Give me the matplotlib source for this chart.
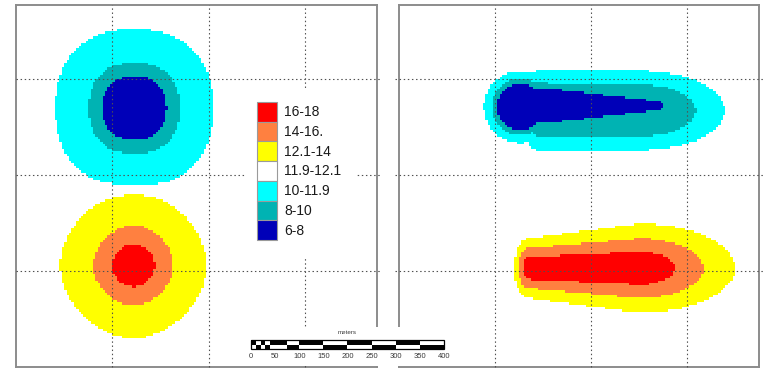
import numpy as np
import matplotlib
matplotlib.use("Agg")
import matplotlib.pyplot as plt
from matplotlib.colors import ListedColormap, BoundaryNorm
from matplotlib.patches import Rectangle

plt.rcParams['font.family'] = ['Liberation Sans', 'DejaVu Sans']

# class breaks and colours
levels = [6, 8, 10, 11.9, 12.1, 14, 16, 18]
class_colors = ['#0000b8', '#00b3b3', '#00ffff', '#ffffff', '#ffff00', '#ff8040', '#ff0000']
class_labels = ['6-8', '8-10', '10-11.9', '11.9-12.1', '12.1-14', '14-16.', '16-18']
background = 12.0

# anomalies in metres: panel, core start/end along x, centre y,
# amplitude at start/end, half-width at start/end, front/tail scale,
# shape exponent, distance norm
anom_panel = [0, 0, 1, 1, 1, 1]
anom_x0 = [246, 244, 252, 294, 294, 269]
anom_x1 = [246, 244, 252, 533, 506, 500]
anom_y = [540, 212, 542, 545, 535, 206]
anom_amp0 = [-7.17, 4.86, -5.3, -5.5, -3.8, 4.3]
anom_amp1 = [-7.17, 4.86, -5.3, -5.5, -3.8, 4.3]
anom_w0 = [85, 87.5, 59.6, 50, 62, 44.6]
anom_w1 = [85, 87.5, 59.6, 14, 60, 66.7]
anom_front = [85, 87.5, 59.6, 31, 31, 20.8]
anom_tail = [85, 87.5, 59.6, 20.8, 125, 143.75]
anom_p = [2.2, 2.45, 6, 4, 4, 4]
anom_q = [2.3, 1.85, 2.0, 2.0, 2.0, 2.0]

grid_m = [200, 400, 600]
scale_ticks = [0, 50, 100, 150, 200, 250, 300, 350, 400]

cell = 5.0
xmax, ymax = 750, 755
xs = np.arange(cell / 2, xmax, cell)
ys = np.arange(cell / 2, ymax, cell)
X, Y = np.meshgrid(xs, ys)


def anomaly(i):
    x0, x1 = anom_x0[i], anom_x1[i]
    span = max(x1 - x0, 1e-9)
    t = np.clip((X - x0) / span, 0, 1)
    amp = anom_amp0[i] + (anom_amp1[i] - anom_amp0[i]) * t
    w = anom_w0[i] + (anom_w1[i] - anom_w0[i]) * t
    dx = np.where(X < x0, (X - x0) / anom_front[i],
                  np.where(X > x1, (X - x1) / anom_tail[i], 0.0))
    dy = (Y - anom_y[i]) / w
    q = anom_q[i]
    d = (np.abs(dx) ** q + np.abs(dy) ** q) ** (1 / q)
    return amp * np.exp(-d ** anom_p[i])


def panel_field(panel):
    parts = np.array([anomaly(i) for i in range(len(anom_panel)) if anom_panel[i] == panel])
    pos = np.clip(parts, 0, None).max(axis=0)
    neg = np.clip(parts, None, 0).min(axis=0)
    return background + pos + neg


cmap = ListedColormap(class_colors)
cmap.set_under(class_colors[0])
cmap.set_over(class_colors[-1])
norm = BoundaryNorm(levels, cmap.N)

fig = plt.figure(figsize=(7.65, 3.68), dpi=100)
W, H = 765.0, 368.0
ax_left = fig.add_axes([16 / W, 1 / H, 361 / W, 362 / H])
ax_right = fig.add_axes([399 / W, 1 / H, 360 / W, 362 / H])

for k, ax in enumerate([ax_left, ax_right]):
    ax.imshow(panel_field(k), cmap=cmap, norm=norm, origin='lower',
              extent=(0, xmax, 0, ymax), interpolation='nearest', aspect='auto')
    ax.set_xlim(0, xmax)
    ax.set_ylim(0, ymax)
    ax.set_xticks([])
    ax.set_yticks([])
    for s in ax.spines.values():
        s.set_color('#8c8c8c')
        s.set_linewidth(1.4)
    # dotted graticule, running a little past the frame
    hx = [0, xmax + 8] if k == 0 else [-8, xmax + 8]
    for g in grid_m:
        ax.plot(hx, [g, g], color='#505050', lw=0.8, ls=(0, (1.3, 2.4)),
                clip_on=False, zorder=3)
        ax.plot([g, g], [0, ymax], color='#505050', lw=0.8, ls=(0, (1.3, 2.4)),
                clip_on=False, zorder=3)

# legend box, highest class on top (drawn in pixel units)
ax_leg = fig.add_axes([245 / W, 1 - 258 / H, 112 / W, 168 / H])
ax_leg.set_facecolor('white')
ax_leg.set_xlim(0, 112)
ax_leg.set_ylim(168, 0)
ax_leg.set_xticks([])
ax_leg.set_yticks([])
for s in ax_leg.spines.values():
    s.set_visible(False)
row_h = 19.7
for j, (c, lab) in enumerate(zip(class_colors[::-1], class_labels[::-1])):
    y0 = 12 + j * row_h
    ax_leg.add_patch(Rectangle((12, y0), 20, row_h, facecolor=c, edgecolor='#9a9a9a', lw=0.8))
    ax_leg.text(39, y0 + row_h / 2 + 0.5, lab, ha='left', va='center', fontsize=10, color='#1a1a1a')

# scale bar
ax_sc = fig.add_axes([248 / W, 2 / H, 210 / W, 39 / H])
ax_sc.set_facecolor('white')
ax_sc.set_xlim(-6.2, 429)
ax_sc.set_ylim(39, 0)
ax_sc.set_xticks([])
ax_sc.set_yticks([])
for s in ax_sc.spines.values():
    s.set_visible(False)

top, mid, bot = 13, 17.5, 22
for j, x in enumerate(range(0, 50, 10)):
    ax_sc.add_patch(Rectangle((x, top if j % 2 == 0 else mid), 10, mid - top, facecolor='black', lw=0))
segments = [50, 75, 100, 150, 200, 250, 300, 350, 400]
for j in range(len(segments) - 1):
    x, w = segments[j], segments[j + 1] - segments[j]
    ax_sc.add_patch(Rectangle((x, top if j % 2 == 0 else mid), w, mid - top, facecolor='black', lw=0))
ax_sc.add_patch(Rectangle((0, top), 400, bot - top, facecolor='none', edgecolor='black', lw=0.9))
for v in scale_ticks:
    ax_sc.text(v, 29.5, str(v), ha='center', va='center', fontsize=5.5, color='#3a3a3a')
ax_sc.text(200, 5.5, 'meters', ha='center', va='center', fontsize=4.5, color='#3a3a3a')

fig.savefig('out.png', dpi=100)
